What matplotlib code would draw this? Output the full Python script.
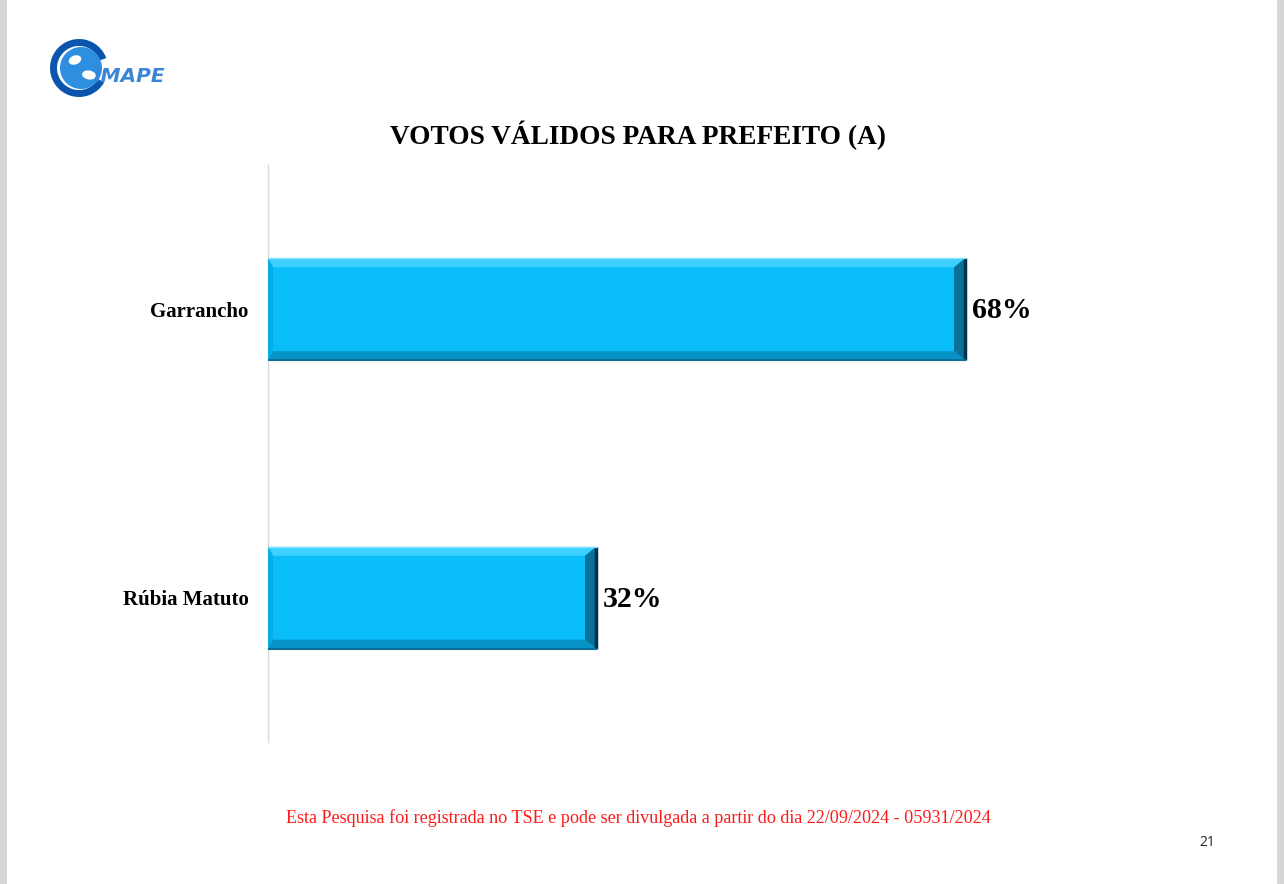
import matplotlib.pyplot as plt
from matplotlib.patches import Polygon, Rectangle, Circle, Wedge, Ellipse
from matplotlib.font_manager import FontProperties

# dados
candidatos = ['Garrancho', 'Rúbia Matuto']
votos = [68, 32]
rotulos = ['68%', '32%']

titulo = 'VOTOS VÁLIDOS PARA PREFEITO (A)'
rodape = 'Esta Pesquisa foi registrada no TSE e pode ser divulgada a partir do dia 22/09/2024 - 05931/2024'
pagina = '21'

serif = ['Liberation Serif', 'DejaVu Serif']
fp_valor = FontProperties(family=serif, weight='bold', size=21.5)
fp_cat = FontProperties(family=serif, weight='bold', size=15)

fig = plt.figure(figsize=(12.84, 8.84), dpi=100)
fig.patch.set_facecolor('white')

# bordas cinzas da página
fig.patches.append(Rectangle((0, 0), 7 / 1284, 1, transform=fig.transFigure,
                             facecolor='#d6d6d6', edgecolor='none'))
fig.patches.append(Rectangle((1 - 7 / 1284, 0), 7 / 1284, 1, transform=fig.transFigure,
                             facecolor='#d6d6d6', edgecolor='none'))

ax = fig.add_axes([268 / 1284, 1 - 742 / 884, 922.5 / 1284, 577 / 884])

ypos = list(range(len(candidatos)))[::-1]   # Garrancho em cima
altura = 0.353
cor = '#09bdf9'

ax.barh(ypos, votos, height=altura, color=cor, edgecolor='none', zorder=2)

# efeito de bisel nas barras
bx = 11 / 10.25     # largura do bisel em unidades de x
bl = 5 / 10.25      # bisel esquerdo
by = 9 / 289        # altura do bisel em unidades de y
for y, v in zip(ypos, votos):
    y0, y1 = y - altura / 2, y + altura / 2
    topo = [(0, y1), (v, y1), (v - bx, y1 - by), (bl, y1 - by)]
    base = [(0, y0), (v, y0), (v - bx, y0 + by), (bl, y0 + by)]
    esq = [(0, y0), (0, y1), (bl, y1 - by), (bl, y0 + by)]
    dir_ = [(v, y0), (v, y1), (v - bx, y1 - by), (v - bx, y0 + by)]
    ax.add_patch(Polygon(topo, closed=True, facecolor='#3ccfff', edgecolor='none', zorder=3))
    ax.add_patch(Polygon(base, closed=True, facecolor='#0893c6', edgecolor='none', zorder=3))
    ax.add_patch(Polygon(esq, closed=True, facecolor='#08abe4', edgecolor='none', zorder=3))
    ax.add_patch(Polygon(dir_, closed=True, facecolor='#0a7299', edgecolor='none', zorder=3))
    ax.plot([v, v], [y0, y1], color='#05324a', lw=2.5, zorder=4, solid_capstyle='butt')
    ax.plot([0, v], [y1, y1], color='#86e6ff', lw=1, zorder=4)
    ax.plot([0, v], [y0, y0], color='#0a6f99', lw=1.5, zorder=4)

for y, v, r in zip(ypos, votos, rotulos):
    ax.annotate(r, (v, y), xytext=(5, -1), textcoords='offset points',
                ha='left', va='center', fontproperties=fp_valor, color='black')

ax.set_xlim(0, 90)
ax.set_ylim(-0.5, 1.5)
ax.set_yticks(ypos)
ax.set_yticklabels(candidatos, fontproperties=fp_cat)
ax.tick_params(axis='y', length=0, pad=14)
ax.set_xticks([])
for s in ['top', 'right', 'bottom']:
    ax.spines[s].set_visible(False)
ax.spines['left'].set_color('#d9d9d9')
ax.spines['left'].set_linewidth(1)
ax.set_facecolor('none')

# título e rodapé
fig.text(638 / 1284, 1 - 135 / 884, titulo, ha='center', va='center',
         fontsize=19.7, fontweight='bold', family=serif)
fig.text(638 / 1284, 1 - 818 / 884, rodape, ha='center', va='center',
         fontsize=13.1, family=serif, color='#ff1a1a')
fig.text(1207 / 1284, 1 - 843 / 884, pagina, ha='center', va='center',
         fontsize=10, family='Open Sans', color='#222222')

# logotipo aproximado
lax = fig.add_axes([40 / 1284, 1 - 100 / 884, 140 / 1284, 70 / 884])
lax.set_xlim(0, 140)
lax.set_ylim(0, 70)
lax.axis('off')
lax.add_patch(Wedge((39, 32), 29, 20, 330, width=7, facecolor='#0b55ad', edgecolor='none'))
lax.add_patch(Circle((41, 32), 21, facecolor='#2e8fe0', edgecolor='none'))
lax.add_patch(Ellipse((35, 40), 13, 9, angle=20, facecolor='white', edgecolor='none'))
lax.add_patch(Ellipse((49, 25), 14, 9, angle=-10, facecolor='white', edgecolor='none'))
lax.text(89, 23, 'IMAPE', ha='center', va='center', fontsize=14.5, fontstyle='italic',
         fontweight='bold', color='#3a86d6', family='DejaVu Sans')

fig.savefig('out.png', dpi=100, facecolor='white')
